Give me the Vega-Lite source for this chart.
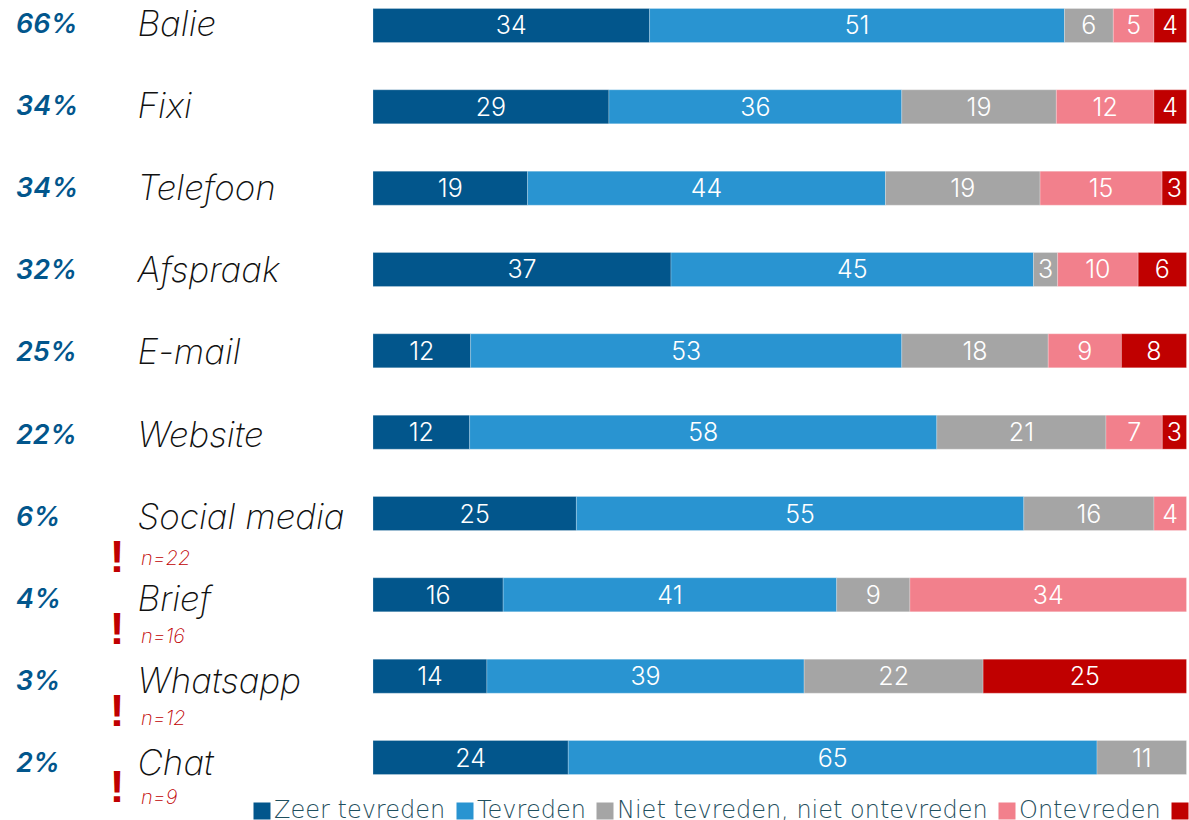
{
  "$schema": "https://vega.github.io/schema/vega-lite/v6.json",
  "width": 1189,
  "height": 820,
  "padding": 0,
  "autosize": {"type": "none"},
  "background": "white",
  "config": {"view": {"stroke": null}, "font": "Inter"},
  "datasets": {
    "oordelen": [
      {"kanaal":"Balie","oordeel":"Zeer tevreden","orde":1,"aandeel":34},
      {"kanaal":"Balie","oordeel":"Tevreden","orde":2,"aandeel":51},
      {"kanaal":"Balie","oordeel":"Niet tevreden, niet ontevreden","orde":3,"aandeel":6},
      {"kanaal":"Balie","oordeel":"Ontevreden","orde":4,"aandeel":5},
      {"kanaal":"Balie","oordeel":"Zeer ontevreden","orde":5,"aandeel":4},
      {"kanaal":"Fixi","oordeel":"Zeer tevreden","orde":1,"aandeel":29},
      {"kanaal":"Fixi","oordeel":"Tevreden","orde":2,"aandeel":36},
      {"kanaal":"Fixi","oordeel":"Niet tevreden, niet ontevreden","orde":3,"aandeel":19},
      {"kanaal":"Fixi","oordeel":"Ontevreden","orde":4,"aandeel":12},
      {"kanaal":"Fixi","oordeel":"Zeer ontevreden","orde":5,"aandeel":4},
      {"kanaal":"Telefoon","oordeel":"Zeer tevreden","orde":1,"aandeel":19},
      {"kanaal":"Telefoon","oordeel":"Tevreden","orde":2,"aandeel":44},
      {"kanaal":"Telefoon","oordeel":"Niet tevreden, niet ontevreden","orde":3,"aandeel":19},
      {"kanaal":"Telefoon","oordeel":"Ontevreden","orde":4,"aandeel":15},
      {"kanaal":"Telefoon","oordeel":"Zeer ontevreden","orde":5,"aandeel":3},
      {"kanaal":"Afspraak","oordeel":"Zeer tevreden","orde":1,"aandeel":37},
      {"kanaal":"Afspraak","oordeel":"Tevreden","orde":2,"aandeel":45},
      {"kanaal":"Afspraak","oordeel":"Niet tevreden, niet ontevreden","orde":3,"aandeel":3},
      {"kanaal":"Afspraak","oordeel":"Ontevreden","orde":4,"aandeel":10},
      {"kanaal":"Afspraak","oordeel":"Zeer ontevreden","orde":5,"aandeel":6},
      {"kanaal":"E-mail","oordeel":"Zeer tevreden","orde":1,"aandeel":12},
      {"kanaal":"E-mail","oordeel":"Tevreden","orde":2,"aandeel":53},
      {"kanaal":"E-mail","oordeel":"Niet tevreden, niet ontevreden","orde":3,"aandeel":18},
      {"kanaal":"E-mail","oordeel":"Ontevreden","orde":4,"aandeel":9},
      {"kanaal":"E-mail","oordeel":"Zeer ontevreden","orde":5,"aandeel":8},
      {"kanaal":"Website","oordeel":"Zeer tevreden","orde":1,"aandeel":12},
      {"kanaal":"Website","oordeel":"Tevreden","orde":2,"aandeel":58},
      {"kanaal":"Website","oordeel":"Niet tevreden, niet ontevreden","orde":3,"aandeel":21},
      {"kanaal":"Website","oordeel":"Ontevreden","orde":4,"aandeel":7},
      {"kanaal":"Website","oordeel":"Zeer ontevreden","orde":5,"aandeel":3},
      {"kanaal":"Social media","oordeel":"Zeer tevreden","orde":1,"aandeel":25},
      {"kanaal":"Social media","oordeel":"Tevreden","orde":2,"aandeel":55},
      {"kanaal":"Social media","oordeel":"Niet tevreden, niet ontevreden","orde":3,"aandeel":16},
      {"kanaal":"Social media","oordeel":"Ontevreden","orde":4,"aandeel":4},
      {"kanaal":"Brief","oordeel":"Zeer tevreden","orde":1,"aandeel":16},
      {"kanaal":"Brief","oordeel":"Tevreden","orde":2,"aandeel":41},
      {"kanaal":"Brief","oordeel":"Niet tevreden, niet ontevreden","orde":3,"aandeel":9},
      {"kanaal":"Brief","oordeel":"Ontevreden","orde":4,"aandeel":34},
      {"kanaal":"Whatsapp","oordeel":"Zeer tevreden","orde":1,"aandeel":14},
      {"kanaal":"Whatsapp","oordeel":"Tevreden","orde":2,"aandeel":39},
      {"kanaal":"Whatsapp","oordeel":"Niet tevreden, niet ontevreden","orde":3,"aandeel":22},
      {"kanaal":"Whatsapp","oordeel":"Zeer ontevreden","orde":5,"aandeel":25},
      {"kanaal":"Chat","oordeel":"Zeer tevreden","orde":1,"aandeel":24},
      {"kanaal":"Chat","oordeel":"Tevreden","orde":2,"aandeel":65},
      {"kanaal":"Chat","oordeel":"Niet tevreden, niet ontevreden","orde":3,"aandeel":11}
    ],
    "kanalen": [
      {"kanaal":"Balie","gebruik":"66%"},
      {"kanaal":"Fixi","gebruik":"34%"},
      {"kanaal":"Telefoon","gebruik":"34%"},
      {"kanaal":"Afspraak","gebruik":"32%"},
      {"kanaal":"E-mail","gebruik":"25%"},
      {"kanaal":"Website","gebruik":"22%"},
      {"kanaal":"Social media","gebruik":"6%","basis":"n=22"},
      {"kanaal":"Brief","gebruik":"4%","basis":"n=16"},
      {"kanaal":"Whatsapp","gebruik":"3%","basis":"n=12"},
      {"kanaal":"Chat","gebruik":"2%","basis":"n=9"}
    ]
  },
  "resolve": {"scale": {"y": "independent"}},
  "layer": [
    {
      "data": {"name": "oordelen"},
      "encoding": {
        "y": {
          "field": "kanaal",
          "type": "nominal",
          "axis": null,
          "sort": ["Balie","Fixi","Telefoon","Afspraak","E-mail","Website","Social media","Brief","Whatsapp","Chat"],
          "scale": {"type": "band", "range": [8.5, 774.5], "paddingInner": 0.582, "paddingOuter": 0}
        },
        "order": {"field": "orde", "type": "quantitative"}
      },
      "layer": [
        {
          "mark": {"type": "bar", "stroke": "white", "strokeWidth": 0.4, "strokeOpacity": 0.6},
          "encoding": {
            "x": {
              "field": "aandeel",
              "type": "quantitative",
              "stack": "normalize",
              "axis": null,
              "scale": {"domain": [-0.45851, 1.00307], "nice": false, "zero": false}
            },
            "color": {
              "field": "oordeel",
              "type": "nominal",
              "sort": ["Zeer tevreden","Tevreden","Niet tevreden, niet ontevreden","Ontevreden","Zeer ontevreden"],
              "scale": {
                "domain": ["Zeer tevreden","Tevreden","Niet tevreden, niet ontevreden","Ontevreden","Zeer ontevreden"],
                "range": ["#02568C","#2994D1","#A5A5A5","#F2808C","#C00000"]
              },
              "legend": {
                "title": null,
                "orient": "none",
                "direction": "horizontal",
                "legendX": 250,
                "legendY": 795,
                "symbolType": "square",
                "symbolSize": 289,
                "symbolStrokeWidth": 0,
                "symbolOpacity": 1,
                "labelFont": "DejaVu Sans",
                "labelFontWeight": 200,
                "labelFontSize": 24,
                "labelColor": "#1F4F5E",
                "labelLimit": 0,
                "labelOffset": 0,
                "columnPadding": 7,
                "clipHeight": 32
              }
            }
          }
        },
        {
          "mark": {"type": "text", "color": "white", "fontSize": 25, "fontWeight": 300, "font": "Inter", "dy": 1},
          "encoding": {
            "x": {
              "field": "aandeel",
              "type": "quantitative",
              "stack": "normalize",
              "bandPosition": 0.5,
              "scale": {"domain": [-0.45851, 1.00307], "nice": false, "zero": false}
            },
            "detail": {"field": "oordeel"},
            "text": {"field": "aandeel", "type": "quantitative"}
          }
        }
      ]
    },
    {
      "data": {"name": "kanalen"},
      "encoding": {
        "y": {
          "field": "kanaal",
          "type": "nominal",
          "axis": null,
          "sort": ["Balie","Fixi","Telefoon","Afspraak","E-mail","Website","Social media","Brief","Whatsapp","Chat"],
          "scale": {"type": "point", "range": [24, 763], "padding": 0}
        }
      },
      "layer": [
        {
          "mark": {"type": "text", "align": "left", "color": "#02568C", "fontSize": 27, "fontWeight": 600, "fontStyle": "italic", "font": "Inter", "dy": 1},
          "encoding": {
            "x": {"datum": -0.43884, "type": "quantitative"},
            "text": {"field": "gebruik"}
          }
        },
        {
          "mark": {"type": "text", "align": "left", "color": "#111111", "fontSize": 35, "fontWeight": 200, "fontStyle": "italic", "font": "Inter", "dy": 1},
          "encoding": {
            "x": {"datum": -0.2895, "type": "quantitative"},
            "text": {"field": "kanaal"}
          }
        },
        {
          "transform": [{"filter": "datum.kanaal === 'Social media'"}],
          "layer": [
            {
              "mark": {"type": "text", "align": "center", "color": "#C00000", "fontSize": 44, "fontWeight": 700, "font": "Liberation Sans", "dy": 42},
              "encoding": {"x": {"datum": -0.3147, "type": "quantitative"}, "text": {"value": "!"}}
            },
            {
              "mark": {"type": "text", "align": "left", "color": "#C00000", "fontSize": 20, "fontWeight": 200, "fontStyle": "italic", "font": "Inter", "dy": 42},
              "encoding": {"x": {"datum": -0.2852, "type": "quantitative"}, "text": {"field": "basis"}}
            }
          ]
        },
        {
          "transform": [{"filter": "datum.kanaal === 'Brief' || datum.kanaal === 'Whatsapp'"}],
          "layer": [
            {
              "mark": {"type": "text", "align": "center", "color": "#C00000", "fontSize": 44, "fontWeight": 700, "font": "Liberation Sans", "dy": 32},
              "encoding": {"x": {"datum": -0.3147, "type": "quantitative"}, "text": {"value": "!"}}
            },
            {
              "mark": {"type": "text", "align": "left", "color": "#C00000", "fontSize": 20, "fontWeight": 200, "fontStyle": "italic", "font": "Inter", "dy": 38},
              "encoding": {"x": {"datum": -0.2852, "type": "quantitative"}, "text": {"field": "basis"}}
            }
          ]
        },
        {
          "transform": [{"filter": "datum.kanaal === 'Chat'"}],
          "layer": [
            {
              "mark": {"type": "text", "align": "center", "color": "#C00000", "fontSize": 44, "fontWeight": 700, "font": "Liberation Sans", "dy": 26},
              "encoding": {"x": {"datum": -0.3147, "type": "quantitative"}, "text": {"value": "!"}}
            },
            {
              "mark": {"type": "text", "align": "left", "color": "#C00000", "fontSize": 20, "fontWeight": 200, "fontStyle": "italic", "font": "Inter", "dy": 35},
              "encoding": {"x": {"datum": -0.2852, "type": "quantitative"}, "text": {"field": "basis"}}
            }
          ]
        }
      ]
    }
  ]
}
